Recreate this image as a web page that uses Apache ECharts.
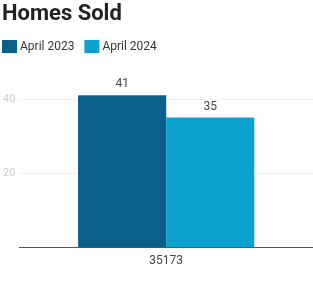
<!DOCTYPE html>
<html><head><meta charset="utf-8">
<script src="https://cdn.jsdelivr.net/npm/echarts@6/dist/echarts.min.js"></script>
<style>html,body{margin:0;padding:0;background:#fff}#c{width:313px;height:281px}</style>
</head><body><div id="c"></div>
<script>
const categories = ['35173'];
const seriesNames = ['April 2023', 'April 2024'];
const values2023 = [41];
const values2024 = [35];
const yTicksShown = [20, 40];

const chart = echarts.init(document.getElementById('c'), null, {renderer: 'canvas'});
chart.setOption({
  animation: false,
  title: {text: 'Homes Sold', left: -3, top: -2, textStyle: {fontFamily: 'Roboto', fontSize: 22, fontWeight: 'bold', color: '#222'}},
  legend: {left: -3, top: 35, itemWidth: 15, itemHeight: 13, itemGap: 10, icon: 'rect',
    textStyle: {fontFamily: 'Roboto', fontSize: 12, color: '#333', padding: [0,0,0,-2]}, data: seriesNames},
  grid: {left: 18, right: -2, top: 25, bottom: 34},
  xAxis: {type: 'category', data: categories,
    axisLine: {lineStyle: {color: '#555', width: 1}}, axisTick: {show: false},
    axisLabel: {fontFamily: 'Roboto', fontSize: 12, color: '#444', margin: 8}},
  yAxis: {type: 'value', min: 0, max: 60, interval: 20,
    axisLine: {show: false}, axisTick: {show: false},
    axisLabel: {fontFamily: 'Roboto', fontSize: 11, color: '#ccc', margin: 4,
      formatter: v => yTicksShown.includes(v) ? String(v) : ''},
    splitLine: {show: true, showMinLine: false, showMaxLine: false, lineStyle: {color: '#f0f0f0'}}},
  series: [
    {name: seriesNames[0], type: 'bar', data: values2023, barGap: 0, barCategoryGap: '40%',
      itemStyle: {color: '#0b5f8b'},
      label: {show: true, position: 'top', fontFamily: 'Roboto', fontSize: 12, color: '#444', distance: 5}},
    {name: seriesNames[1], type: 'bar', data: values2024, barGap: 0, barCategoryGap: '40%',
      itemStyle: {color: '#0aa1cf'},
      label: {show: true, position: 'top', fontFamily: 'Roboto', fontSize: 12, color: '#444', distance: 5}}
  ]
});
</script></body></html>
